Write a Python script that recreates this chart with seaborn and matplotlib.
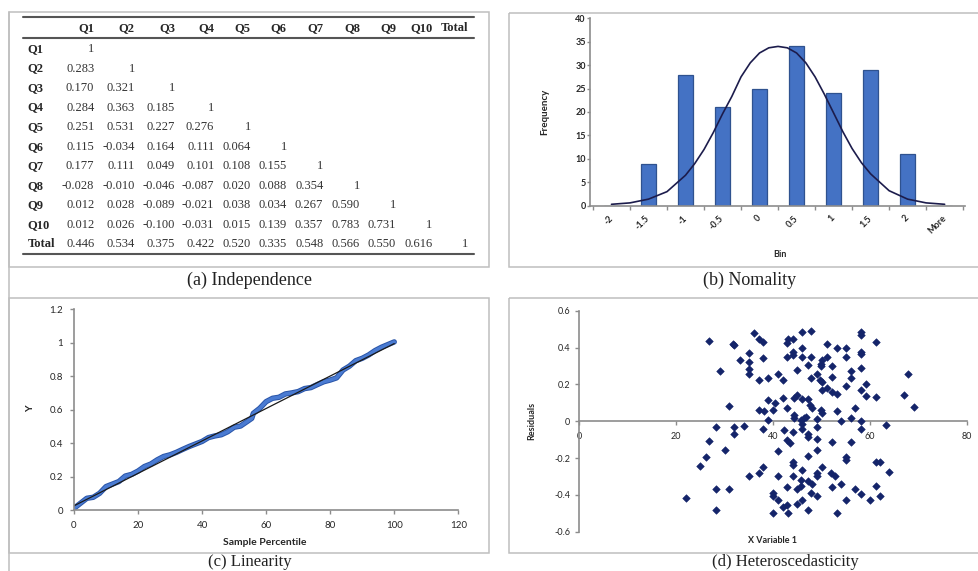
import numpy as np
import pandas as pd
import seaborn as sns
import matplotlib.pyplot as plt
from matplotlib.patches import Rectangle

sns.set_style('ticks')
plt.rcParams['font.family'] = ['Lato', 'DejaVu Sans']
plt.rcParams['axes.unicode_minus'] = False

# (a) correlation table
table_cols = ['Q1', 'Q2', 'Q3', 'Q4', 'Q5', 'Q6', 'Q7', 'Q8', 'Q9', 'Q10', 'Total']
table_rows = ['Q1', 'Q2', 'Q3', 'Q4', 'Q5', 'Q6', 'Q7', 'Q8', 'Q9', 'Q10', 'Total']
corr = [
    [1],
    [0.283, 1],
    [0.170, 0.321, 1],
    [0.284, 0.363, 0.185, 1],
    [0.251, 0.531, 0.227, 0.276, 1],
    [0.115, -0.034, 0.164, 0.111, 0.064, 1],
    [0.177, 0.111, 0.049, 0.101, 0.108, 0.155, 1],
    [-0.028, -0.010, -0.046, -0.087, 0.020, 0.088, 0.354, 1],
    [0.012, 0.028, -0.089, -0.021, 0.038, 0.034, 0.267, 0.590, 1],
    [0.012, 0.026, -0.100, -0.031, 0.015, 0.139, 0.357, 0.783, 0.731, 1],
    [0.446, 0.534, 0.375, 0.422, 0.520, 0.335, 0.548, 0.566, 0.550, 0.616, 1],
]

# (b) histogram of residuals with normal curve
bin_labels = ['-2', '-1.5', '-1', '-0.5', '0', '0.5', '1', '1.5', '2', 'More']
freq = [0, 9, 28, 21, 25, 34, 24, 29, 11, 0]
curve_pos = [0, 0.5, 1, 1.5, 2, 2.25, 2.5, 2.75, 3, 3.25, 3.5, 3.75, 4, 4.25, 4.5,
             4.75, 5, 5.25, 5.5, 5.75, 6, 6.25, 6.5, 6.75, 7, 7.5, 8, 8.5, 9]
curve_freq = [0.3, 0.6, 1.4, 3.0, 6.5, 9.0, 12.0, 15.6, 19.6, 23.3, 27.5, 30.5, 32.6, 33.7, 34.0,
              33.7, 32.6, 30.5, 27.5, 23.8, 19.8, 15.8, 12.2, 9.2, 6.8, 3.2, 1.4, 0.6, 0.3]

# (c) normal probability plot
pct = [0, 2, 4, 6, 8, 10, 12, 14, 16, 18, 20, 22, 24, 26, 28, 30, 32, 34, 36, 38, 40, 42, 44,
       46, 48, 50, 52, 54, 55.5, 56, 58, 60, 62, 64, 66, 68, 70, 72, 74, 76, 78, 80, 82, 84,
       86, 88, 90, 92, 94, 96, 98, 100]
y_obs = [0.01, 0.04, 0.07, 0.076, 0.10, 0.14, 0.155, 0.17, 0.203, 0.213, 0.233, 0.26, 0.275,
         0.30, 0.32, 0.33, 0.345, 0.363, 0.38, 0.395, 0.41, 0.433, 0.443, 0.45, 0.468, 0.495,
         0.502, 0.528, 0.548, 0.578, 0.608, 0.648, 0.668, 0.674, 0.694, 0.70, 0.708, 0.726,
         0.732, 0.75, 0.767, 0.777, 0.79, 0.837, 0.86, 0.893, 0.907, 0.927, 0.953, 0.973,
         0.989, 1.005]
trend_x = [0, 100]
trend_y = [0.025, 0.995]

# (d) residuals vs x
resid_x = [26.9, 32.0, 31.8, 36.0, 37.2, 37.9, 35.1, 33.1, 35.1, 37.9, 29.0, 35.1, 35.1, 37.1,
           38.9, 38.9, 31.0, 37.2, 38.2, 38.9, 28.2, 32.0, 34.1, 37.9, 32.0, 26.9, 30.2, 26.1,
           25.0, 37.9, 37.2, 35.1, 28.2, 31.0, 22.0, 28.2,
           46.0, 47.9, 58.1, 58.1, 43.0, 44.1, 42.9, 61.2, 51.2, 53.1, 55.1, 46.0, 44.1, 44.1,
           42.9, 58.1, 58.1, 46.0, 47.9, 51.2, 55.1, 50.1, 49.9, 49.9, 47.2, 52.1, 45.0, 56.1,
           58.1, 41.0, 67.9, 49.1, 47.9, 49.7, 52.1, 56.1, 42.1, 50.1, 59.1, 55.0, 58.1, 50.1,
           51.2, 52.1, 53.1, 59.1, 61.2, 67.0, 42.1, 44.3, 45.0, 46.0, 47.2, 40.5, 47.7, 48.1,
           50.0, 42.9, 40.1, 53.1, 57.0, 50.1, 44.3, 44.3, 46.3, 46.9, 45.7, 49.1, 56.0, 54.1,
           58.1, 46.0, 46.0, 49.1, 58.1, 63.2, 42.2, 44.1, 47.2, 47.2, 49.1, 42.9, 43.6, 52.1,
           56.1, 49.1, 41.0, 47.2, 55.0, 55.0, 44.1, 44.1, 61.2, 62.0, 50.1, 51.9, 52.7, 49.1,
           49.1, 46.0, 63.9, 41.0, 44.1, 45.8, 47.2, 48.1, 52.1, 54.1, 57.0, 61.2, 42.9, 45.0,
           45.8, 40.1, 40.1, 58.1, 60.0, 62.0, 55.1, 47.9, 49.1, 46.0, 41.0, 42.1, 42.9, 45.0,
           47.2, 40.1, 43.0, 53.1, 69.0]
resid_y = [0.436, 0.413, 0.418, 0.477, 0.449, 0.431, 0.371, 0.332, 0.319, 0.341, 0.275, 0.281,
           0.255, 0.226, 0.232, 0.114, 0.085, 0.063, 0.054, 0.005, -0.034, -0.034, -0.024,
           -0.042, -0.069, -0.109, -0.159, -0.194, -0.245, -0.248, -0.279, -0.297, -0.370,
           -0.370, -0.418, -0.480,
           0.485, 0.488, 0.486, 0.467, 0.444, 0.449, 0.422, 0.431, 0.418, 0.400, 0.400, 0.395,
           0.377, 0.359, 0.350, 0.377, 0.364, 0.346, 0.348, 0.348, 0.346, 0.335, 0.313, 0.299,
           0.304, 0.299, 0.277, 0.272, 0.290, 0.259, 0.255, 0.255, 0.235, 0.223, 0.241, 0.232,
           0.223, 0.214, 0.201, 0.190, 0.172, 0.168, 0.178, 0.159, 0.150, 0.136, 0.129, 0.141,
           0.128, 0.126, 0.141, 0.123, 0.123, 0.100, 0.087, 0.069, 0.060, 0.069, 0.063, 0.054,
           0.072, 0.045, 0.033, 0.015, 0.020, 0.024, 0.005, 0.010, 0.018, 0.000, 0.000, -0.013,
           -0.040, -0.034, -0.040, -0.018, -0.046, -0.058, -0.069, -0.085, -0.094, -0.103,
           -0.121, -0.112, -0.112, -0.154, -0.163, -0.190, -0.194, -0.212, -0.221, -0.239,
           -0.223, -0.223, -0.248, -0.281, -0.299, -0.281, -0.297, -0.266, -0.275, -0.299,
           -0.297, -0.317, -0.326, -0.339, -0.357, -0.339, -0.366, -0.354, -0.357, -0.366,
           -0.354, -0.390, -0.408, -0.393, -0.426, -0.408, -0.426, -0.390, -0.408, -0.429,
           -0.426, -0.466, -0.455, -0.447, -0.480, -0.498, -0.498, -0.498, 0.078]

W, H = 979, 571
fig = plt.figure(figsize=(W / 100, H / 100), dpi=100)


def px_axes(left, top, right, bottom):
    return fig.add_axes([left / W, 1 - bottom / H, (right - left) / W, (bottom - top) / H])


serif = ['Liberation Serif', 'DejaVu Serif']
grey = '#bfbfbf'

# background layer: frames, captions, table
bg = px_axes(0, 0, W, H)
bg.set_xlim(0, W)
bg.set_ylim(H, 0)
bg.axis('off')
for l, t, r, b in [(9.5, 11.5, 489, 267), (509.5, 12.5, 990, 267),
                   (9.5, 298, 489, 553), (509.5, 298, 990, 553)]:
    bg.add_patch(Rectangle((l, t), r - l, b - t, fill=False, ec=grey, lw=1.1))
bg.plot([9.5, 9.5], [11.5, H], color=grey, lw=1.1)

captions = [(250, 280, '(a) Independence', 13), (750, 280, '(b) Nomality', 13),
            (250, 562, '(c) Linearity', 12), (785, 562, '(d) Heteroscedasticity', 12)]
for x, y, s, fs in captions:
    bg.text(x, y, s, ha='center', va='center', family=serif, size=fs, color='#222222')

col_right = [94.3, 134.7, 175, 214.3, 250.7, 286.7, 323.3, 360, 396, 432.3, 468.3]
for j, name in enumerate(table_cols):
    bg.text(col_right[j], 28.3, name, ha='right', va='center', family=serif,
            weight='bold', size=9, color='#262626')
for i, (name, vals) in enumerate(zip(table_rows, corr)):
    y = 49 + 19.53 * i
    bg.text(27.7, y, name, ha='left', va='center', family=serif, weight='bold',
            size=9, color='#262626')
    for j, v in enumerate(vals):
        txt = '1' if v == 1 else f'{v:.3f}'
        bg.text(col_right[j], y, txt, ha='right', va='center', family=serif,
                size=9, color='#333333')
for y in (16.7, 37.7, 254):
    bg.plot([22.7, 474], [y, y], color='#555555', lw=1.5)


def excel_axes(ax, size, weight='normal'):
    sns.despine(ax=ax)
    for s in ('left', 'bottom'):
        ax.spines[s].set_color('#8c8c8c')
        ax.spines[s].set_linewidth(1.2)
    ax.tick_params(direction='out', length=3, width=1, color='#8c8c8c',
                   labelsize=size, labelcolor='#262626')
    for lab in ax.get_xticklabels() + ax.get_yticklabels():
        lab.set_fontweight(weight)
    ax.set_facecolor('none')


# (b) Normality
ax_b = px_axes(590, 18.3, 965, 205.7)
bin_pos = list(range(len(bin_labels)))
sns.barplot(x=bin_pos, y=freq, ax=ax_b, native_scale=True, color='#4472C4',
            saturation=1, width=0.39, edgecolor='#2F528F', linewidth=0.9)
sns.lineplot(x=curve_pos, y=curve_freq, ax=ax_b, color='#1c1c4c', lw=1.2,
             sort=False, estimator=None)
ax_b.set_xlim(-0.58, 9.55)
ax_b.set_ylim(0, 40)
ax_b.set_yticks(range(0, 41, 5))
ax_b.set_xticks(bin_pos)
ax_b.set_xticklabels(bin_labels, rotation=45, ha='right', va='center',
                     rotation_mode='anchor')
ax_b.set_xticks([p - 0.5 for p in bin_pos] + [9.5], minor=True)
excel_axes(ax_b, 6.5, 'bold')
ax_b.tick_params(axis='x', which='major', length=0, pad=8)
ax_b.tick_params(axis='x', which='minor', length=3, width=1, color='#8c8c8c')
ax_b.tick_params(axis='y', length=2, pad=1)
ax_b.set_xlabel('Bin', size=6.5, weight='bold', color='#262626')
ax_b.set_ylabel('Frequency', size=7, weight='bold', color='#262626')
ax_b.xaxis.set_label_coords(0.507, -0.263)
ax_b.yaxis.set_label_coords(-0.12, 0.5)
ax_b.xaxis.label.set_va('center')
ax_b.yaxis.label.set_va('center')

# (c) Linearity
ax_c = px_axes(74, 309.3, 458.3, 510)
sns.lineplot(x=pct, y=y_obs, ax=ax_c, color='#2a55a8', lw=3.9, sort=False, estimator=None)
sns.lineplot(x=pct, y=y_obs, ax=ax_c, color='#4a7bd2', lw=2.5, sort=False, estimator=None)
sns.lineplot(x=trend_x, y=trend_y, ax=ax_c, color='#1a1a1a', lw=0.9)
ax_c.set_xlim(0, 120)
ax_c.set_ylim(0, 1.2)
ax_c.set_xticks(range(0, 121, 20))
ax_c.set_yticks([0, 0.2, 0.4, 0.6, 0.8, 1, 1.2])
ax_c.set_yticklabels(['0', '0.2', '0.4', '0.6', '0.8', '1', '1.2'])
excel_axes(ax_c, 7)
ax_c.tick_params(axis='x', pad=5)
ax_c.tick_params(axis='y', pad=5)
ax_c.set_xlabel('Sample Percentile', size=7.5, weight='bold', color='#262626')
ax_c.set_ylabel('Y', size=7.5, weight='bold', color='#262626')
ax_c.xaxis.set_label_coords(0.497, -0.164)
ax_c.yaxis.set_label_coords(-0.114, 0.503)
ax_c.xaxis.label.set_va('center')
ax_c.yaxis.label.set_va('center')

# (d) Heteroscedasticity
ax_d = px_axes(579, 310.7, 967, 531.7)
sns.scatterplot(x=resid_x, y=resid_y, ax=ax_d, marker='D', s=15, color='#14246a',
                edgecolor='#14246a', linewidth=0.4, zorder=3)
ax_d.set_xlim(0, 80)
ax_d.set_ylim(-0.6, 0.6)
ax_d.set_xticks(range(0, 81, 20))
ax_d.set_yticks([-0.6, -0.4, -0.2, 0, 0.2, 0.4, 0.6])
ax_d.set_yticklabels(['-0.6', '-0.4', '-0.2', '0', '0.2', '0.4', '0.6'])
excel_axes(ax_d, 6.5)
ax_d.spines['bottom'].set_position(('data', 0))
ax_d.tick_params(axis='x', pad=5)
ax_d.tick_params(axis='y', pad=3.5)
ax_d.set_xlabel('X Variable 1', size=6.5, weight='bold', color='#262626')
ax_d.set_ylabel('Residuals', size=6.5, weight='bold', color='#262626')
ax_d.xaxis.set_label_coords(0.5, -0.042)
ax_d.yaxis.set_label_coords(-0.121, 0.5)
ax_d.xaxis.label.set_va('center')
ax_d.yaxis.label.set_va('center')

fig.savefig('out.png', dpi=100)
